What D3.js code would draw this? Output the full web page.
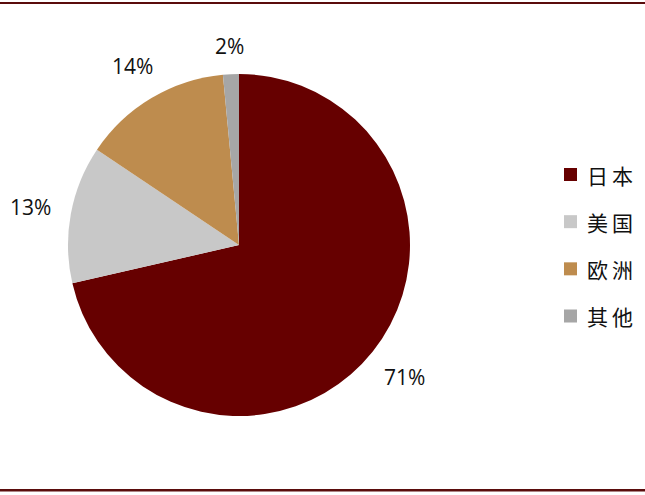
<!DOCTYPE html>
<html><head><meta charset="utf-8">
<script src="https://cdn.jsdelivr.net/npm/d3@7"></script>
<style>body{margin:0;background:#fff}svg{display:block}</style>
</head><body>
<svg id="c" width="645" height="495"></svg>
<script>
const categories = ["日本", "美国", "欧洲", "其他"];
const values = [71.4, 13.0, 14.1, 1.5];
const labels = ["71%", "13%", "14%", "2%"];
const colors = ["#660000", "#c8c8c8", "#be8c4e", "#a6a6a6"];

const svg = d3.select("#c");
const W = 645, H = 495;
const cx = 239, cy = 245, r = 171;

svg.append("rect").attr("x", 0).attr("y", 2).attr("width", W).attr("height", 2).attr("fill", "#5a0c0c");
svg.append("rect").attr("x", 0).attr("y", 489).attr("width", W).attr("height", 2.5).attr("fill", "#5a0c0c");

const pie = d3.pie().sort(null).value(d => d)(values);
const arc = d3.arc().innerRadius(0).outerRadius(r);
const g = svg.append("g").attr("transform", `translate(${cx},${cy})`);
g.selectAll("path").data(pie).join("path")
  .attr("d", arc).attr("fill", (d, i) => colors[i]);

// labels: box placed along mid-angle so its nearest point is D from centre
const D = 190;
pie.forEach((d, i) => {
  const a = (d.startAngle + d.endAngle) / 2;
  const t = g.append("text").text(labels[i])
    .attr("font-family", "Open Sans, sans-serif").attr("font-size", 21)
    .attr("fill", "#111").attr("text-anchor", "middle").attr("dominant-baseline", "central");
  const w = t.node().getComputedTextLength(), h = 18;
  const sx = Math.sin(a), sy = -Math.cos(a);
  let lo = 0, hi = 400;
  for (let k = 0; k < 40; k++) {
    const m = (lo + hi) / 2;
    const dx = Math.max(Math.abs(m * sx) - w / 2, 0);
    const dy = Math.max(Math.abs(m * sy) - h / 2, 0);
    if (Math.hypot(dx, dy) < D) lo = m; else hi = m;
  }
  t.attr("x", lo * sx).attr("y", lo * sy);
});

const leg = svg.append("g");
const ly = d3.scalePoint().domain(categories).range([174.5, 316]);
categories.forEach((c, i) => {
  const y = ly(c);
  leg.append("rect").attr("x", 564).attr("y", y - 6.5).attr("width", 13).attr("height", 13).attr("fill", colors[i]);
  leg.append("text").text(c).attr("x", 587).attr("y", y)
    .attr("font-family", "Noto Sans CJK SC, sans-serif").attr("font-size", 21)
    .attr("letter-spacing", 4).attr("fill", "#111").attr("dominant-baseline", "central");
});
</script>
</body></html>
